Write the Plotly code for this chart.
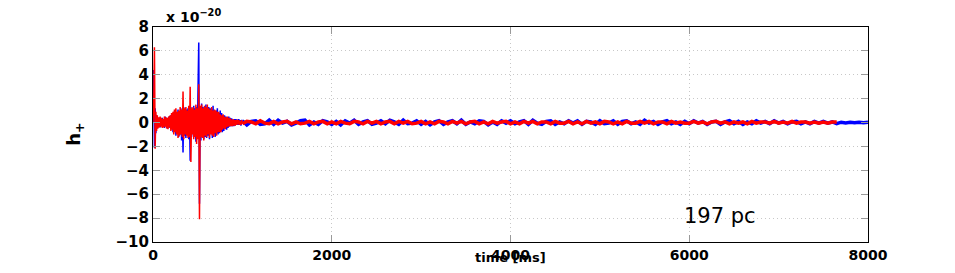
import plotly.graph_objects as go

# strain h+ (units of 1e-20)
# burst part: one sample every 8 ms from t = 0
burst_dt = 8
blue_burst = [
    0.0, 4.4, -2.1, 1.2, -0.9, 0.6, -0.5, 0.4, -0.3, 0.35,
    -0.4, 0.3, -0.25, 0.4, -0.35, 0.3, -0.45, 0.5, -0.3, 0.4,
    -0.5, 0.35, -0.4, 0.55, -0.45, 0.6, -0.5, 0.7, -0.8, 0.9,
    -0.6, 1.0, -1.1, 0.8, -0.9, 1.1, -1.2, 0.9, -1.0, 1.2,
    -1.5, 1.0, -2.5, 1.3, -1.1, 0.9, -1.3, 1.1, -1.0, 1.2,
    -1.4, 0.8, -3.2, 1.3, -1.2, 1.0, -0.9, 1.4, -1.1, 1.2,
    -1.6, 1.3, -1.0, 1.8, 6.7, -6.8, 1.2, -1.5, 1.6, -1.2,
    1.3, -1.4, 1.1, -1.2, 1.5, -1.3, 1.0, -1.1, 1.3, -1.4,
    1.2, -0.9, 1.1, -1.3, 1.4, -1.0, 0.9, -1.2, 1.0, -0.9,
    1.2, -1.0, 0.8, -0.9, 1.0, -0.7, 0.8, -0.8, 0.6, -0.7,
    0.6, -0.5, 0.5, -0.6, 0.4, -0.45, 0.5, -0.35, 0.4, -0.3,
    0.35, -0.3, 0.25, -0.3, 0.3, -0.25, 0.3, -0.2, 0.25, -0.2,
    0.3, -0.2, 0.2, -0.25, 0.2,
]
red_burst = [
    0.0, 1.5, 6.3, -2.2, 0.9, -0.7, 0.6, -0.5, 0.45, -0.4,
    0.5, -0.35, 0.4, -0.45, 0.3, -0.4, 0.5, -0.35, 0.45, -0.5,
    0.4, -0.55, 0.5, -0.4, 0.6, -0.7, 0.8, -0.6, 0.9, -1.0,
    1.1, -0.8, 1.2, -1.0, 0.9, -1.3, 1.0, -1.1, 1.3, -1.0,
    1.1, -1.2, 2.6, -1.4, 1.2, -1.0, 1.3, -1.1, 1.0, -1.3,
    1.4, -1.2, 3.0, -3.3, 1.2, -1.0, 1.3, -1.4, 1.1, -1.2,
    1.5, -1.8, 1.2, -1.4, 3.2, -8.1, 1.4, -1.2, 1.5, -1.3,
    1.2, -1.5, 1.4, -1.1, 1.3, -1.2, 1.5, -1.0, 1.2, -1.3,
    1.1, -1.0, 1.3, -1.1, 1.0, -1.2, 1.1, -0.9, 1.0, -1.1,
    0.9, -0.8, 0.9, -0.8, 0.7, -0.8, 0.6, -0.6, 0.7, -0.5,
    0.5, -0.55, 0.45, -0.4, 0.5, -0.35, 0.4, -0.3, 0.35, -0.3,
    0.25, -0.3, 0.3, -0.25, 0.2, -0.25, 0.2, -0.2, 0.25, -0.15,
    0.2, -0.2, 0.15, -0.2, 0.2,
]

# tail part: one sample every 50 ms from t = 1000
tail_t0 = 1000
tail_dt = 50
blue_tail = [
    0.15, -0.2, 0.1, 0.15, -0.15, -0.1, 0.2, -0.15, 0.2, -0.05,
    0.1, -0.2, -0.05, 0.15, 0.2, -0.2, 0.05, -0.15, 0.15, 0.05,
    -0.15, 0.1, -0.2, 0.15, -0.05, 0.2, -0.15, 0.05, 0.15, -0.15,
    -0.05, 0.15, -0.1, 0.2, 0.05, -0.15, 0.2, -0.1, -0.05, 0.15,
    -0.15, 0.1, -0.2, 0.05, 0.15, -0.15, 0.05, 0.15, -0.1, 0.2,
    -0.15, 0.05, -0.1, 0.15, 0.1, -0.2, 0.05, -0.15, 0.15, -0.05,
    0.15, -0.1, 0.05, 0.15, -0.15, 0.2, -0.05, -0.15, 0.1, 0.15,
    -0.15, 0.05, -0.1, 0.15, -0.05, 0.15, -0.15, 0.1, 0.05, -0.15,
    0.15, -0.1, -0.05, 0.15, -0.15, 0.1, 0.15, -0.1, 0.05, -0.15,
    0.2, -0.05, 0.1, -0.15, 0.05, 0.15, -0.1, 0.05, -0.15, 0.1,
    -0.1, 0.15, -0.05, 0.1, -0.15, 0.05, 0.1, -0.15, 0.05, 0.15,
    -0.1, 0.1, -0.15, 0.05, -0.1, 0.15, -0.05, 0.1, -0.1, 0.15,
    -0.05, 0.1, -0.1, 0.05, 0.1, -0.1, 0.05, -0.1, 0.1, -0.05,
    0.1, -0.05, 0.05, -0.1, 0.03, -0.03, 0.02, -0.02, 0.03, -0.02,
    0.02,
]
red_tail = [
    -0.1, 0.1, 0.05, -0.1, 0.15, -0.05, -0.1, 0.1, -0.1, 0.05,
    0.1, -0.1, 0.05, -0.1, -0.05, 0.1, -0.1, 0.05, 0.1, -0.1,
    0.05, -0.1, 0.1, -0.05, -0.1, 0.1, 0.05, -0.1, 0.1, -0.05,
    0.1, -0.1, 0.05, 0.1, -0.1, 0.1, -0.05, 0.1, -0.1, -0.05,
    0.1, -0.1, 0.05, -0.1, 0.1, 0.05, -0.1, 0.1, -0.05, 0.1,
    -0.1, 0.05, 0.1, -0.1, 0.05, -0.1, 0.1, -0.05, 0.05, 0.1,
    -0.1, 0.05, -0.1, 0.1, -0.05, 0.1, -0.1, 0.05, 0.05, -0.1,
    0.1, -0.05, -0.05, 0.1, -0.1, 0.05, -0.1, 0.1, -0.05, 0.05,
    -0.1, 0.1, 0.05, -0.1, 0.05, -0.1, 0.1, -0.05, -0.05, 0.1,
    -0.05, 0.1, -0.1, 0.05, 0.05, -0.1, 0.1, -0.05, 0.05, -0.05,
    -0.05, 0.1, -0.05, 0.05, -0.1, 0.05, 0.1, -0.05, 0.05, -0.1,
    0.05, -0.05, 0.05, -0.1, 0.1, -0.05, 0.05, 0.05, -0.05, 0.1,
    -0.05, 0.05, -0.05, 0.1, -0.05, 0.05, 0.05, -0.05, 0.05, -0.05,
    0.05, -0.05, 0.05, 0.05,
]

x_ticks = [0, 2000, 4000, 6000, 8000]
y_ticks = [-10, -8, -6, -4, -2, 0, 2, 4, 6, 8]
distance_label = "197 pc"

FONT = "DejaVu Sans"
BLUE = "#0000ff"
RED = "#ff0000"

burst_t_blue = [i * burst_dt for i in range(len(blue_burst))]
burst_t_red = [i * burst_dt for i in range(len(red_burst))]
tail_t_blue = [tail_t0 + i * tail_dt for i in range(len(blue_tail))]
tail_t_red = [tail_t0 + i * tail_dt for i in range(len(red_tail))]

fig = go.Figure()
# blue first, red drawn on top
fig.add_trace(go.Scatter(x=burst_t_blue + [tail_t0], y=blue_burst + blue_tail[:1],
                         mode="lines", line=dict(color=BLUE, width=1.5)))
fig.add_trace(go.Scatter(x=tail_t_blue, y=blue_tail,
                         mode="lines", line=dict(color=BLUE, width=3.5)))
fig.add_trace(go.Scatter(x=burst_t_red + [tail_t0], y=red_burst + red_tail[:1],
                         mode="lines", line=dict(color=RED, width=1.5)))
fig.add_trace(go.Scatter(x=tail_t_red, y=red_tail,
                         mode="lines", line=dict(color=RED, width=3.5)))

axis_style = dict(
    showline=True, linecolor="black", linewidth=1, mirror="ticks",
    ticks="inside", ticklen=7, tickcolor="#999999",
    showgrid=True, gridcolor="#c8c8c8", griddash="1px,3px", gridwidth=1,
    zeroline=False,
)

fig.update_xaxes(range=[0, 8000], tickvals=x_ticks,
                 tickfont=dict(family=FONT, size=14, color="black", weight="bold"),
                 **axis_style)
fig.update_yaxes(range=[-10, 8], tickvals=y_ticks,
                 tickfont=dict(family=FONT, size=15, color="black", weight="bold"),
                 **axis_style)

fig.add_annotation(text="x 10<sup>−20</sup>", xref="paper", yref="paper",
                   x=0.016, y=1.0, xanchor="left", yanchor="bottom",
                   showarrow=False,
                   font=dict(family=FONT, size=14, color="black", weight="bold"))
fig.add_annotation(text="time [ms]", xref="paper", yref="paper",
                   x=0.5, y=-0.112, xanchor="center", yanchor="bottom",
                   showarrow=False, borderpad=0,
                   font=dict(family=FONT, size=13, color="black", weight="bold"))
fig.add_annotation(text="h<sub>+</sub>", xref="paper", yref="paper",
                   x=-0.11, y=0.5, xanchor="center", yanchor="middle",
                   textangle=-90, showarrow=False,
                   font=dict(family=FONT, size=18, color="black", weight="bold"))
fig.add_annotation(text=distance_label, x=6343, y=-7.8,
                   showarrow=False,
                   font=dict(family=FONT, size=21, color="black"))

# the page body adds 8 px around the plot div
fig.update_layout(
    width=947, height=265,
    margin=dict(l=145, r=87, t=10, b=26),
    plot_bgcolor="white", paper_bgcolor="white",
    showlegend=False,
)

fig.write_html("out.html")
